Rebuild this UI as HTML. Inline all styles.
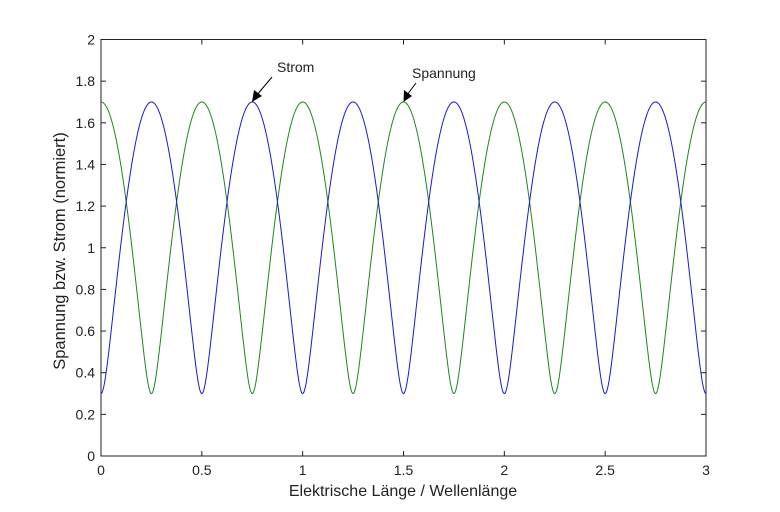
<!DOCTYPE html>
<html><head><style>body{margin:0;background:#fff}svg{display:block}text{font-family:"Liberation Sans",Arial,sans-serif;font-size:14px;fill:#222}.al{font-size:16px}</style></head>
<body>
<svg id="s" width="780" height="512" xmlns="http://www.w3.org/2000/svg">
<rect x="101" y="39.5" width="605" height="416.5" fill="#fff" stroke="#222" stroke-width="1"/>
<g id="ticks" stroke="#222" stroke-width="1"></g>
<g id="labels"></g>
<polyline id="g" fill="none" stroke="#1a8a1a" stroke-width="1"/>
<polyline id="b" fill="none" stroke="#1a1ad0" stroke-width="1"/>
<text class="al" x="403" y="496" text-anchor="middle">Elektrische Länge / Wellenlänge</text>
<text class="al" style="font-size:16.5px" transform="translate(65,251) rotate(-90)" text-anchor="middle">Spannung bzw. Strom (normiert)</text>
<text x="277" y="72">Strom</text>
<text x="412" y="78">Spannung</text>
<line x1="272" y1="77" x2="256" y2="96" stroke="#000"/>
<polygon points="252,102 254,90 262,96" fill="#000"/>
<line x1="416" y1="83" x2="407" y2="95" stroke="#000"/>
<polygon points="403.5,102 404,90 412,96" fill="#000"/>
</svg>
<script>
var L=101,R=706,T=39.5,B=456;
function X(v){return L+(R-L)*v/3}function Y(v){return B-(B-T)*v/2}
var tk='',lb='';
for(var i=0;i<=6;i++){var x=X(i*0.5);tk+='<line x1="'+x+'" y1="'+B+'" x2="'+x+'" y2="'+(B-5)+'"/><line x1="'+x+'" y1="'+T+'" x2="'+x+'" y2="'+(T+5)+'"/>';
lb+='<text x="'+x+'" y="475" text-anchor="middle">'+(i*0.5)+'</text>';}
for(var j=0;j<=10;j++){var v=j*0.2,y=Y(v);tk+='<line x1="'+L+'" y1="'+y+'" x2="'+(L+5)+'" y2="'+y+'"/><line x1="'+R+'" y1="'+y+'" x2="'+(R-5)+'" y2="'+y+'"/>';
lb+='<text x="95" y="'+(y+5)+'" text-anchor="end">'+(Math.round(v*10)/10)+'</text>';}
document.getElementById('ticks').innerHTML=tk;document.getElementById('labels').innerHTML=lb;
var g='',b='';for(var k=0;k<=1200;k++){var x=3*k/1200,c=Math.cos(4*Math.PI*x);
g+=X(x).toFixed(2)+','+Y(Math.sqrt(1.49+1.4*c)).toFixed(2)+' ';
b+=X(x).toFixed(2)+','+Y(Math.sqrt(1.49-1.4*c)).toFixed(2)+' ';}
document.getElementById('g').setAttribute('points',g);document.getElementById('b').setAttribute('points',b);
</script>
</body></html>
